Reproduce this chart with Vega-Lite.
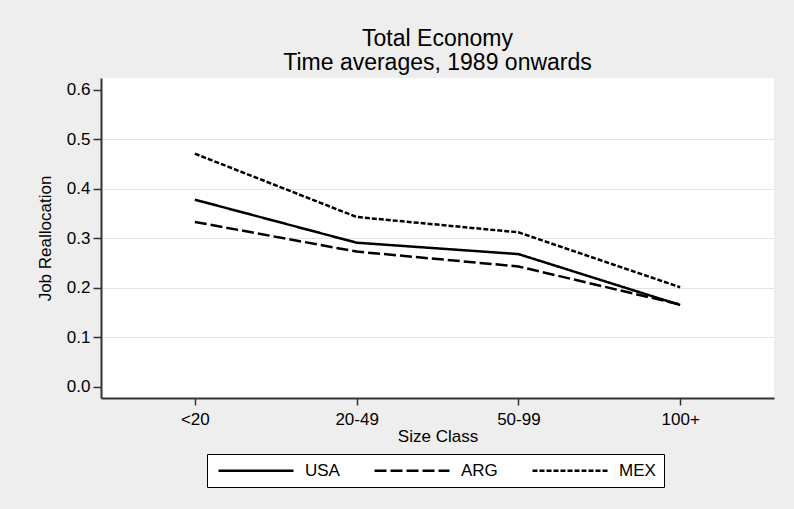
{
  "$schema": "https://vega.github.io/schema/vega-lite/v6.json",
  "width": 673,
  "height": 320,
  "autosize": "none",
  "padding": {"left": 101, "top": 78, "right": 20, "bottom": 111},
  "background": "#eeeeee",
  "title": {
    "text": ["Total Economy", "Time averages, 1989 onwards"],
    "fontSize": 23,
    "fontWeight": "normal",
    "font": "Liberation Sans",
    "color": "black",
    "anchor": "middle",
    "frame": "group",
    "baseline": "bottom",
    "lineHeight": 24,
    "offset": -20
  },
  "data": {
    "values": [
      {"country": "USA", "size": "<20", "value": 0.378},
      {"country": "USA", "size": "20-49", "value": 0.291},
      {"country": "USA", "size": "50-99", "value": 0.268},
      {"country": "USA", "size": "100+", "value": 0.165},
      {"country": "ARG", "size": "<20", "value": 0.333},
      {"country": "ARG", "size": "20-49", "value": 0.273},
      {"country": "ARG", "size": "50-99", "value": 0.243},
      {"country": "ARG", "size": "100+", "value": 0.166},
      {"country": "MEX", "size": "<20", "value": 0.471},
      {"country": "MEX", "size": "20-49", "value": 0.343},
      {"country": "MEX", "size": "50-99", "value": 0.312},
      {"country": "MEX", "size": "100+", "value": 0.201}
    ]
  },
  "mark": {"type": "line", "color": "black", "strokeWidth": 2.5},
  "encoding": {
    "x": {
      "field": "size",
      "type": "ordinal",
      "sort": ["<20", "20-49", "50-99", "100+"],
      "scale": {"type": "point", "padding": 0.58},
      "axis": {
        "title": "Size Class",
        "labelAngle": 0,
        "grid": false,
        "domainColor": "#333333",
        "domainWidth": 2,
        "tickColor": "#333333",
        "tickWidth": 1.5,
        "tickSize": 7,
        "labelPadding": 6,
        "labelFontSize": 17,
        "labelFont": "Liberation Sans",
        "labelColor": "black",
        "titleFontSize": 17,
        "titleFont": "Liberation Sans",
        "titleFontWeight": "normal",
        "titleColor": "black",
        "titlePadding": 1
      }
    },
    "y": {
      "field": "value",
      "type": "quantitative",
      "scale": {"domain": [-0.023, 0.624], "nice": false, "zero": false},
      "axis": {
        "title": "Job Reallocation",
        "values": [0, 0.1, 0.2, 0.3, 0.4, 0.5, 0.6],
        "format": ".1f",
        "grid": true,
        "gridColor": "#e4e4e4",
        "gridWidth": 1,
        "gridOpacity": {"condition": {"test": "datum.value < 0.05 || datum.value > 0.55", "value": 0}, "value": 1},
        "domainColor": "#333333",
        "domainWidth": 2,
        "tickColor": "#333333",
        "tickWidth": 1.5,
        "tickSize": 8,
        "labelPadding": 3,
        "labelFontSize": 17,
        "labelFont": "Liberation Sans",
        "labelColor": "black",
        "titleFontSize": 17,
        "titleFont": "Liberation Sans",
        "titleFontWeight": "normal",
        "titleColor": "black",
        "titlePadding": 12
      }
    },
    "strokeDash": {
      "field": "country",
      "type": "nominal",
      "scale": {"domain": ["USA", "ARG", "MEX"], "range": [[1, 0], [12, 4], [5, 2]]},
      "legend": {
        "title": null,
        "orient": "none",
        "legendX": 106,
        "legendY": 376,
        "direction": "horizontal",
        "symbolType": "M-1,0H14",
        "symbolSize": 100,
        "symbolStrokeWidth": 2.5,
        "symbolStrokeColor": "black",
        "symbolFillColor": "transparent",
        "labelFontSize": 17,
        "labelFont": "Liberation Sans",
        "labelColor": "black",
        "labelOffset": 73,
        "columnPadding": 29,
        "fillColor": "white",
        "strokeColor": "black",
        "padding": 8
      }
    }
  },
  "config": {
    "view": {"fill": "white", "stroke": null}
  }
}
